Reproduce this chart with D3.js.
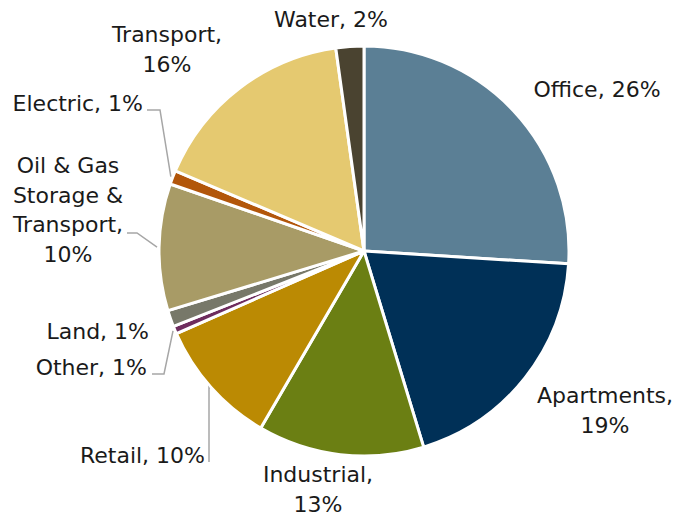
<!DOCTYPE html>
<meta charset="utf-8">
<head>
    <script src="https://d3js.org/d3.v7.min.js"></script>
    <style>
        body { margin: 0; background: white; }
        text { font-family: "DejaVu Sans", sans-serif; font-size: 22px; fill: #1a1a1a; }
    </style>
</head>
<body>
<div id="chart"></div>
<script>
    // data (shares in %, clockwise from 12 o'clock)
    const categories = ["Office", "Apartments", "Industrial", "Retail", "Other", "Land",
        "Oil & Gas Storage & Transport", "Electric", "Transport", "Water"];
    const values = [26.0, 19.3, 13.1, 10.0, 0.6, 1.3, 10.0, 1.1, 16.4, 2.2];
    const shownPct = ["26%", "19%", "13%", "10%", "1%", "1%", "10%", "1%", "16%", "2%"];
    const colors = ["#5b7f95", "#003057", "#6b7f13", "#bb8a03", "#6e2c5e", "#777869",
        "#a89b66", "#b2560a", "#e5c970", "#4a4330"];

    const width = 673, height = 517;
    const cx = 364, cy = 251, radius = 205;

    const svg = d3.select("#chart").append("svg")
        .attr("width", width)
        .attr("height", height);

    const g = svg.append("g").attr("transform", `translate(${cx}, ${cy})`);

    const pie = d3.pie().sort(null).value(d => d.value);
    const arc = d3.arc().innerRadius(0).outerRadius(radius);

    const data = categories.map((c, i) => ({ name: c, value: values[i], pct: shownPct[i], color: colors[i] }));
    const arcs = pie(data);

    g.selectAll("path.slice")
        .data(arcs)
        .enter()
        .append("path")
        .attr("class", "slice")
        .attr("d", arc)
        .attr("fill", d => d.data.color)
        .attr("stroke", "white")
        .attr("stroke-width", 3)
        .attr("stroke-linejoin", "round");

    // label layout (absolute page positions, lines, anchor, optional leader elbow)
    const labels = [
        { lines: ["Office, 26%"], x: 597, y: 97, anchor: "middle" },
        { lines: ["Apartments,", "19%"], x: 605, y: 403, anchor: "middle" },
        { lines: ["Industrial,", "13%"], x: 318, y: 482, anchor: "middle" },
        { lines: ["Retail, 10%"], x: 205, y: 463, anchor: "end", leader: [[209, 462], [209, 388]] },
        { lines: ["Other, 1%"], x: 147, y: 375, anchor: "end", leader: [[152, 374], [164, 374]] },
        { lines: ["Land, 1%"], x: 149, y: 339, anchor: "end" },
        { lines: ["Oil & Gas", "Storage &", "Transport,", "10%"], x: 68, y: 173, anchor: "middle", leader: [[127, 233], [137, 233]] },
        { lines: ["Electric, 1%"], x: 143, y: 111, anchor: "end", leader: [[147, 110], [160, 110]] },
        { lines: ["Transport,", "16%"], x: 167, y: 42, anchor: "middle" },
        { lines: ["Water, 2%"], x: 331, y: 27, anchor: "middle" }
    ];

    // leader lines end on the slice edge at its mid angle
    const edge = d3.arc().innerRadius(radius + 2).outerRadius(radius + 2);
    arcs.forEach((a, i) => {
        const lab = labels[i];
        if (!lab.leader) return;
        const end = edge.centroid(a);
        const pts = lab.leader.concat([[end[0] + cx, end[1] + cy]]);
        svg.append("path")
            .attr("d", d3.line()(pts))
            .attr("fill", "none")
            .attr("stroke", "#a6a6a6")
            .attr("stroke-width", 1.5);
    });

    labels.forEach(lab => {
        const t = svg.append("text")
            .attr("x", lab.x)
            .attr("y", lab.y)
            .attr("text-anchor", lab.anchor);
        lab.lines.forEach((line, j) => {
            t.append("tspan")
                .attr("x", lab.x)
                .attr("dy", j === 0 ? 0 : 29.5)
                .text(line);
        });
    });
</script>
</body>
